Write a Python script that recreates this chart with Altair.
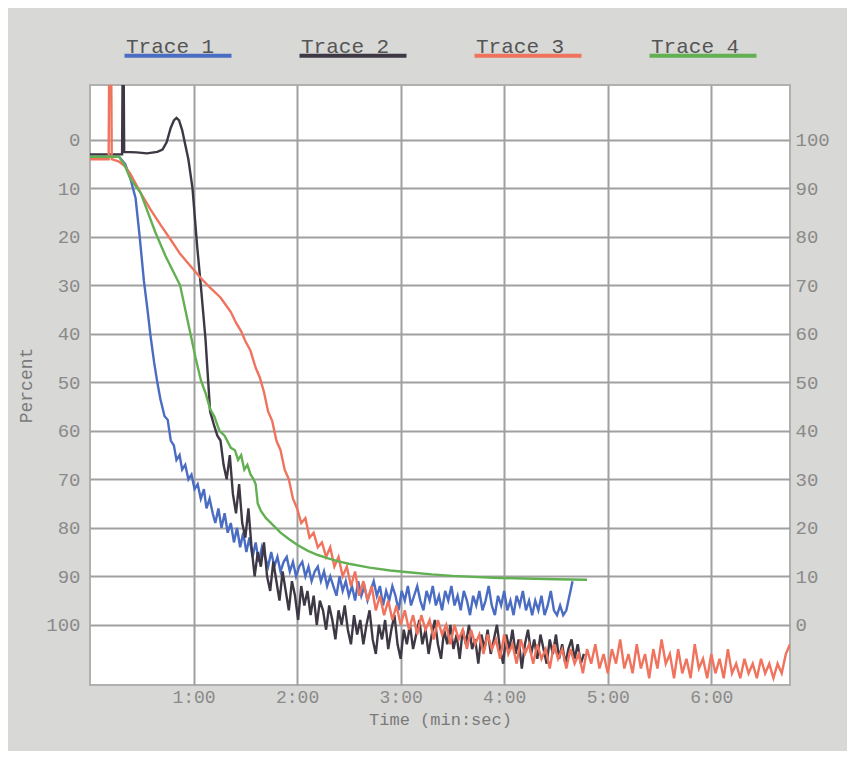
import altair as alt
import pandas as pd

# ---------------- data (time in minutes, value in percent, left axis) -------------
names = ["Trace 1", "Trace 2", "Trace 3", "Trace 4"]
colors = ["#4a6cc2", "#3e3844", "#f0735e", "#62b052"]

# Trace 1 (blue)
t1_head_t = [0, 0.28, 0.34, 0.39, 0.44, 0.48, 0.52, 0.555, 0.585, 0.62, 0.65, 0.68, 0.72, 0.75, 0.78,
             0.81, 0.835, 0.865, 0.89, 0.92, 0.95, 0.98, 1.01, 1.04, 1.07, 1.10, 1.125, 1.155, 1.185, 1.21, 1.24]
t1_head_v = [3.5, 3.5, 5, 8, 12, 20, 29, 35, 40.5, 46, 50, 53.5, 57, 57.7, 62,
             63, 66, 65, 68, 67, 70, 69, 72, 71, 74, 72, 76, 74, 77, 79, 76]
t1_tail_start, t1_tail_step = 1.27, 0.03
t1_tail_v = [80, 77, 81, 79, 83, 80, 84, 81, 85, 82,
             86, 83, 87, 84, 86, 88, 85, 88, 86, 89,
             87, 86, 89, 87, 90, 88, 87, 90, 88, 91,
             89, 88, 91, 89, 92, 90, 92, 94, 90, 93,
             91, 94, 92, 95, 91, 94, 92, 95, 93, 91,
             94, 92, 96, 93, 95, 92, 94, 97, 93, 95,
             92, 96, 94, 92, 95, 97, 93, 95, 92, 96,
             94, 97, 93, 95, 92, 96, 94, 97, 93, 95,
             98, 94, 96, 93, 97, 95, 92, 96, 98, 94,
             96, 93, 97, 95, 98, 94, 96, 93, 97, 95,
             98, 95, 97, 94, 98, 96, 93, 97, 98, 96,
             98, 97, 94, 91]

# Trace 2 (dark grey)
t2_head_t = [0, 0.31, 0.315, 0.325, 0.33, 0.45, 0.55, 0.65, 0.70, 0.74, 0.78, 0.81, 0.835, 0.86, 0.89,
             0.92, 0.95, 0.99, 1.035, 1.07, 1.115, 1.16, 1.20, 1.23]
t2_head_v = [3, 3, -15, -15, 2.5, 2.6, 2.8, 2.5, 2, 0.5, -2.5, -4, -4.5, -4, -2,
             1, 4, 10, 22, 30, 41, 56, 59, 61]
t2_tail_start, t2_tail_step = 1.26, 0.03
t2_tail_v = [62, 67, 70, 65, 73, 77, 71, 79, 82, 76,
             84, 90, 85, 88, 83, 90, 93, 87, 91, 95,
             89, 93, 97, 91, 94, 99, 92, 96, 93, 98,
             94, 100, 95, 97, 101, 96, 99, 103, 97, 100,
             96, 101, 104, 98, 102, 99, 104, 100, 97, 103,
             106, 100, 103, 99, 105, 101, 98, 104, 107, 101,
             104, 100, 105, 102, 99, 104, 101, 106, 102, 99,
             104, 107, 101, 104, 100, 105, 102, 107, 101, 104,
             100, 105, 103, 108, 102, 105, 101, 106, 103, 100,
             105, 108, 102, 105, 101, 106, 103, 109, 104, 101,
             106, 103, 107, 102, 105, 108, 103, 106, 102, 107,
             104, 108, 105, 103, 107, 104, 108, 106]

# Trace 3 (red)
t3_head_t = [0, 0.18, 0.185, 0.205, 0.21, 0.28, 0.34, 0.39, 0.49, 0.585, 0.68, 0.78, 0.87, 0.97, 1.07,
             1.16, 1.26, 1.31, 1.36, 1.41, 1.46, 1.50, 1.55, 1.60]
t3_head_v = [4, 4, -15, -15, 4, 4.5, 5.5, 7, 11, 14.4, 17.5, 20.6, 23.5, 26, 28.5,
             30.5, 32.5, 34, 35.5, 37.7, 39.5, 41.5, 43.5, 47]
t3_tail_start, t3_tail_step = 1.64, 0.04
t3_tail_v = [49, 52, 56, 58, 62, 64, 68, 70, 74, 76,
             79, 78, 82, 81, 84, 83, 86, 84, 88, 86,
             90, 88, 92, 89, 94, 91, 95, 92, 97, 94,
             98, 95, 99, 96, 100, 97, 101, 98, 102, 98,
             101, 99, 103, 99, 102, 100, 104, 100, 103, 101,
             105, 101, 104, 102, 106, 102, 105, 103, 107, 102,
             106, 104, 108, 103, 106, 104, 108, 104, 107, 105,
             109, 104, 107, 105, 109, 105, 108, 106, 110, 105,
             108, 104, 109, 106, 110, 105, 108, 103, 109, 106,
             110, 104, 109, 106, 111, 105, 109, 103, 108, 106,
             111, 105, 110, 107, 111, 104, 109, 107, 111, 106,
             110, 107, 111, 105, 110, 108, 111, 107, 110, 108,
             111, 107, 110, 108, 111, 108, 110, 106, 104]

# Trace 4 (green)
t4_t = [0, 0.28, 0.33, 0.39, 0.49, 0.56, 0.63, 0.73, 0.80, 0.87, 0.92, 0.97, 1.02, 1.07, 1.12,
        1.16, 1.20, 1.25, 1.30, 1.36, 1.40, 1.43, 1.46, 1.49, 1.52, 1.55, 1.58, 1.60, 1.62, 1.65,
        1.70, 1.77, 1.84, 1.92, 2.00, 2.10, 2.20, 2.30, 2.40, 2.50, 2.70, 2.90, 3.10, 3.30, 3.50,
        3.70, 3.90, 4.10, 4.30, 4.50, 4.80]
t4_v = [3.5, 3.5, 5, 8, 11, 15, 19, 24, 27, 30, 35, 40, 45, 49.5, 52.5,
        55.5, 57, 60, 61, 63.5, 64, 66, 65, 68, 67, 69, 70, 71, 75, 76.5,
        78, 79.5, 81, 82.3, 83.5, 84.7, 85.6, 86.3, 86.9, 87.4, 88.2, 88.8, 89.2, 89.6, 89.9,
        90.1, 90.3, 90.4, 90.5, 90.6, 90.7]

y_ticks = [0, 10, 20, 30, 40, 50, 60, 70, 80, 90, 100]
x_ticks = [1, 2, 3, 4, 5, 6]

# ---------------- assemble ----------------
rows = []


def add(name, ts, vs, start_index=0):
    for k, (t, v) in enumerate(zip(ts, vs)):
        rows.append({"trace": name, "t": t, "v": v, "i": start_index + k})
    return start_index + len(ts)


def tail_times(start, step, vals):
    return [round(start + k * step, 4) for k in range(len(vals))]


n = add("Trace 1", t1_head_t, t1_head_v)
add("Trace 1", tail_times(t1_tail_start, t1_tail_step, t1_tail_v), t1_tail_v, n)
n = add("Trace 2", t2_head_t, t2_head_v)
add("Trace 2", tail_times(t2_tail_start, t2_tail_step, t2_tail_v), t2_tail_v, n)
n = add("Trace 3", t3_head_t, t3_head_v)
add("Trace 3", tail_times(t3_tail_start, t3_tail_step, t3_tail_v), t3_tail_v, n)
add("Trace 4", t4_t, t4_v)

df = pd.DataFrame(rows)

FONT = "Liberation Mono"
xscale = alt.Scale(domain=[0, 6.76], nice=False, zero=False)
yscale = alt.Scale(domain=[-11.3, 112.4], reverse=True, nice=False, zero=False)
xaxis = alt.Axis(values=x_ticks, labelExpr="datum.value + ':00'", title="Time (min:sec)",
                 grid=True, labelPadding=3, titlePadding=5, labelFontSize=18, titleFontSize=17)

lines = alt.Chart(df).mark_line(strokeWidth=2.4, clip=True).encode(
    x=alt.X("t:Q", scale=xscale, axis=xaxis),
    y=alt.Y("v:Q", scale=yscale,
            axis=alt.Axis(values=y_ticks, title="Percent", orient="left", grid=True,
                          labelPadding=10, titlePadding=10)),
    color=alt.Color("trace:N", scale=alt.Scale(domain=names, range=colors),
                    legend=alt.Legend(orient="none", legendX=9, legendY=-49, direction="horizontal",
                                      title=None, symbolType="M7.5,4.5H61", symbolSize=16,
                                      symbolStrokeWidth=4, labelFont=FONT, labelFontSize=21,
                                      labelColor="#555555", labelOffset=6, columnPadding=34)),
    order="i:Q",
)

right = alt.Chart(df).mark_line(opacity=0).encode(
    x=alt.X("t:Q", scale=xscale, axis=xaxis),
    y=alt.Y("v:Q", scale=yscale,
            axis=alt.Axis(values=y_ticks, orient="right", grid=False, title=None,
                          labelExpr="100 - datum.value", labelPadding=5)),
    detail="trace:N",
)

chart = alt.layer(lines, right).resolve_axis(y="independent").properties(
    width=700, height=600,
    autosize=alt.AutoSizeParams(type="none"),
    padding={"left": 82, "top": 77, "right": 57, "bottom": 66},
    background="#d8d8d6",
).configure_view(
    fill="white", stroke="#b0b0b0", strokeWidth=2
).configure_axis(
    labelFont=FONT, labelFontSize=19, labelColor="#8a8a8a",
    titleFont=FONT, titleFontSize=18, titleColor="#7a7a7a", titleFontWeight="normal",
    gridColor="#a0a0a0", gridWidth=2, ticks=False, domain=False,
)

chart.save("out.html", embed_options={"renderer": "svg", "actions": False})
